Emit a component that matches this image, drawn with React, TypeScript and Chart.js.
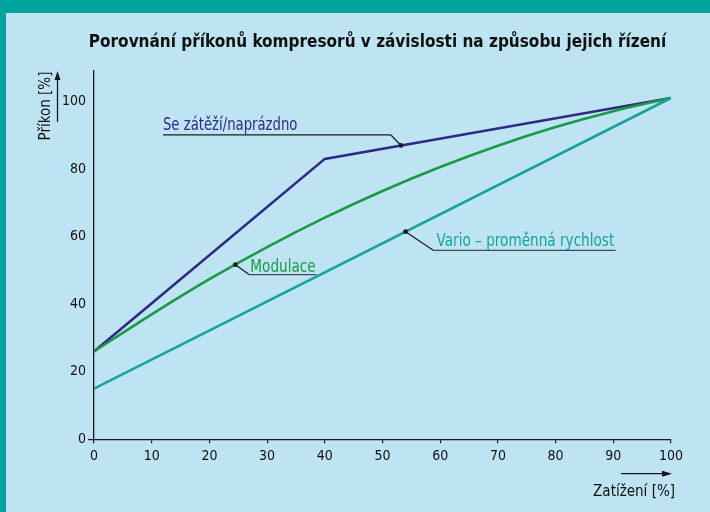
import React, { useEffect, useRef } from "react";
import { Chart, registerables } from "chart.js";

Chart.register(...registerables);

// ---- data ----
const titleText = "Porovnání příkonů kompresorů v závislosti na způsobu jejich řízení";
const xTitle = "Zatížení [%]";
const yTitle = "Příkon [%]";

const loadTicks = [0, 10, 20, 30, 40, 50, 60, 70, 80, 90, 100];
const powerTicks = [0, 20, 40, 60, 80, 100];

const seName = "Se zátěží/naprázdno";
const seLoad = [0, 40, 100];
const sePower = [26, 83, 101];

const modName = "Modulace";
const modLoad = [0, 10, 20, 30, 40, 50, 60, 70, 80, 90, 100];
const modPower = [26, 37, 47.4, 56.9, 65.6, 73.5, 80.6, 86.9, 92.4, 97.1, 101];

const varioName = "Vario – proměnná rychlost";
const varioLoad = [0, 100];
const varioPower = [15, 101];

// where the label leader lines touch each curve (load %)
const seAnchorLoad = 53.2;
const modAnchorLoad = 24.5;
const varioAnchorLoad = 54;

const BLUE = "#2f2a86";
const GREEN = "#1a9a47";
const TEAL = "#16a39e";
const INK = "#1b1b1b";
const BG = "#bee3f2";
const FRAME = "#00a39b";
const FONT = "'Liberation Sans Narrow', 'DejaVu Sans Condensed', 'Noto Sans', sans-serif";

function pts(xs: number[], ys: number[]) {
  return xs.map((x, i) => ({ x, y: ys[i] }));
}

function interp(xs: number[], ys: number[], x: number) {
  for (let i = 0; i < xs.length - 1; i++) {
    if (x >= xs[i] && x <= xs[i + 1]) {
      const t = (x - xs[i]) / (xs[i + 1] - xs[i]);
      return ys[i] + t * (ys[i + 1] - ys[i]);
    }
  }
  return ys[ys.length - 1];
}

function squeezedText(
  ctx: CanvasRenderingContext2D,
  text: string,
  x: number,
  y: number,
  sx: number
) {
  ctx.save();
  ctx.translate(x, y);
  ctx.scale(sx, 1);
  ctx.fillText(text, 0, 0);
  ctx.restore();
}

const decorPlugin = {
  id: "decor",
  afterDraw(chart: any) {
    const ctx = chart.ctx as CanvasRenderingContext2D;
    const xs = chart.scales.x;
    const ys = chart.scales.y;
    ctx.save();

    // title
    ctx.fillStyle = "#111";
    ctx.font = `bold 18px ${FONT}`;
    ctx.textAlign = "center";
    ctx.textBaseline = "middle";
    squeezedText(ctx, titleText, 377.5, 42, 0.945);

    // y axis title + arrow
    ctx.save();
    ctx.translate(46, 106);
    ctx.rotate(-Math.PI / 2);
    ctx.font = `15px ${FONT}`;
    ctx.fillStyle = "#111";
    ctx.textAlign = "center";
    ctx.textBaseline = "middle";
    ctx.fillText(yTitle, 0, 0);
    ctx.restore();

    ctx.strokeStyle = INK;
    ctx.fillStyle = INK;
    ctx.lineWidth = 1.3;
    ctx.beginPath();
    ctx.moveTo(57.5, 122);
    ctx.lineTo(57.5, 78);
    ctx.stroke();
    ctx.beginPath();
    ctx.moveTo(57.5, 71);
    ctx.lineTo(54.5, 80);
    ctx.lineTo(60.5, 80);
    ctx.closePath();
    ctx.fill();

    // x axis title + arrow
    ctx.font = `15px ${FONT}`;
    ctx.textAlign = "right";
    ctx.textBaseline = "alphabetic";
    ctx.fillStyle = "#111";
    ctx.fillText(xTitle, 675, 496);
    ctx.beginPath();
    ctx.moveTo(621, 473.7);
    ctx.lineTo(663, 473.7);
    ctx.stroke();
    ctx.beginPath();
    ctx.moveTo(672, 473.7);
    ctx.lineTo(662, 470.7);
    ctx.lineTo(662, 476.7);
    ctx.closePath();
    ctx.fill();

    // annotations
    const annot = (
      load: number,
      xsArr: number[],
      ysArr: number[],
      text: string,
      color: string,
      lineColor: string,
      elbowDx: number,
      elbowDy: number,
      endDx: number,
      textDx: number,
      textDy: number,
      squeeze: number
    ) => {
      const px = xs.getPixelForValue(load);
      const py = ys.getPixelForValue(interp(xsArr, ysArr, load));
      const ex = px + elbowDx;
      const ey = py + elbowDy;
      ctx.strokeStyle = INK;
      ctx.lineWidth = 1.2;
      ctx.beginPath();
      ctx.moveTo(px, py);
      ctx.lineTo(ex, ey);
      ctx.stroke();
      ctx.strokeStyle = lineColor;
      ctx.beginPath();
      ctx.moveTo(ex, ey);
      ctx.lineTo(ex + endDx, ey);
      ctx.stroke();
      ctx.fillStyle = INK;
      ctx.beginPath();
      ctx.arc(px, py, 2.4, 0, Math.PI * 2);
      ctx.fill();
      ctx.font = `17px ${FONT}`;
      ctx.fillStyle = color;
      ctx.textAlign = "left";
      ctx.textBaseline = "alphabetic";
      squeezedText(ctx, text, ex + textDx, ey + textDy, squeeze);
    };

    annot(seAnchorLoad, seLoad, sePower, seName, BLUE, INK, -10, -10.5, -228, -228, -5, 0.865);
    annot(varioAnchorLoad, varioLoad, varioPower, varioName, TEAL, "#3d4d57", 28, 18.7, 182, 3, -4.5, 0.89);
    annot(modAnchorLoad, modLoad, modPower, modName, GREEN, "#3d4d57", 14, 10, 67, 1, -2.8, 0.89);

    ctx.restore();
  },
};

export default function App() {
  const ref = useRef<HTMLCanvasElement | null>(null);

  useEffect(() => {
    if (!ref.current) return;
    const chart = new Chart(ref.current, {
      type: "line",
      data: {
        datasets: [
          {
            label: varioName,
            data: pts(varioLoad, varioPower),
            borderColor: TEAL,
            borderWidth: 2.6,
            pointRadius: 0,
            fill: false,
          },
          {
            label: modName,
            data: pts(modLoad, modPower),
            borderColor: GREEN,
            borderWidth: 2.6,
            pointRadius: 0,
            cubicInterpolationMode: "monotone",
            fill: false,
          },
          {
            label: seName,
            data: pts(seLoad, sePower),
            borderColor: BLUE,
            borderWidth: 2.6,
            pointRadius: 0,
            fill: false,
          },
        ],
      },
      options: {
        animation: false,
        responsive: false,
        maintainAspectRatio: false,
        layout: { padding: { top: 71, right: 39, left: 0, bottom: 0 } },
        plugins: {
          legend: { display: false },
          title: { display: false },
          tooltip: { enabled: false },
        },
        scales: {
          x: {
            type: "linear",
            min: 0,
            max: 100,
            afterBuildTicks: (s: any) => {
              s.ticks = loadTicks.map((v) => ({ value: v }));
            },
            afterFit: (s: any) => {
              s.height = 72.7;
            },
            border: { display: true, color: INK, width: 1.3 },
            grid: {
              drawOnChartArea: false,
              drawTicks: true,
              tickLength: 4,
              color: INK,
              lineWidth: 1.2,
            },
            ticks: {
              color: "#111",
              padding: 5,
              maxRotation: 0,
              autoSkip: false,
              font: { family: FONT, size: 14 },
            },
          },
          y: {
            type: "linear",
            min: 0,
            max: 109,
            afterBuildTicks: (s: any) => {
              s.ticks = powerTicks.map((v) => ({ value: v }));
            },
            afterFit: (s: any) => {
              s.width = 94;
            },
            border: { display: true, color: INK, width: 1.3 },
            grid: {
              drawOnChartArea: false,
              drawTicks: true,
              tickLength: 6,
              color: (c: any) => (c.tick && c.tick.value === 0 ? INK : "rgba(0,0,0,0)"),
              lineWidth: 1.2,
            },
            ticks: {
              color: "#111",
              padding: 2,
              autoSkip: false,
              font: { family: FONT, size: 14 },
            },
          },
        },
      },
      plugins: [decorPlugin],
    } as any);
    return () => chart.destroy();
  }, []);

  return (
    <div
      style={{
        position: "absolute",
        left: 0,
        top: 0,
        width: 710,
        height: 512,
        background: FRAME,
        overflow: "hidden",
      }}
    >
      <div
        style={{
          position: "absolute",
          left: 6,
          top: 13,
          right: 0,
          bottom: 0,
          background: BG,
        }}
      />
      <canvas
        ref={ref}
        width={710}
        height={512}
        style={{ position: "absolute", left: 0, top: 0, width: 710, height: 512 }}
      />
    </div>
  );
}
